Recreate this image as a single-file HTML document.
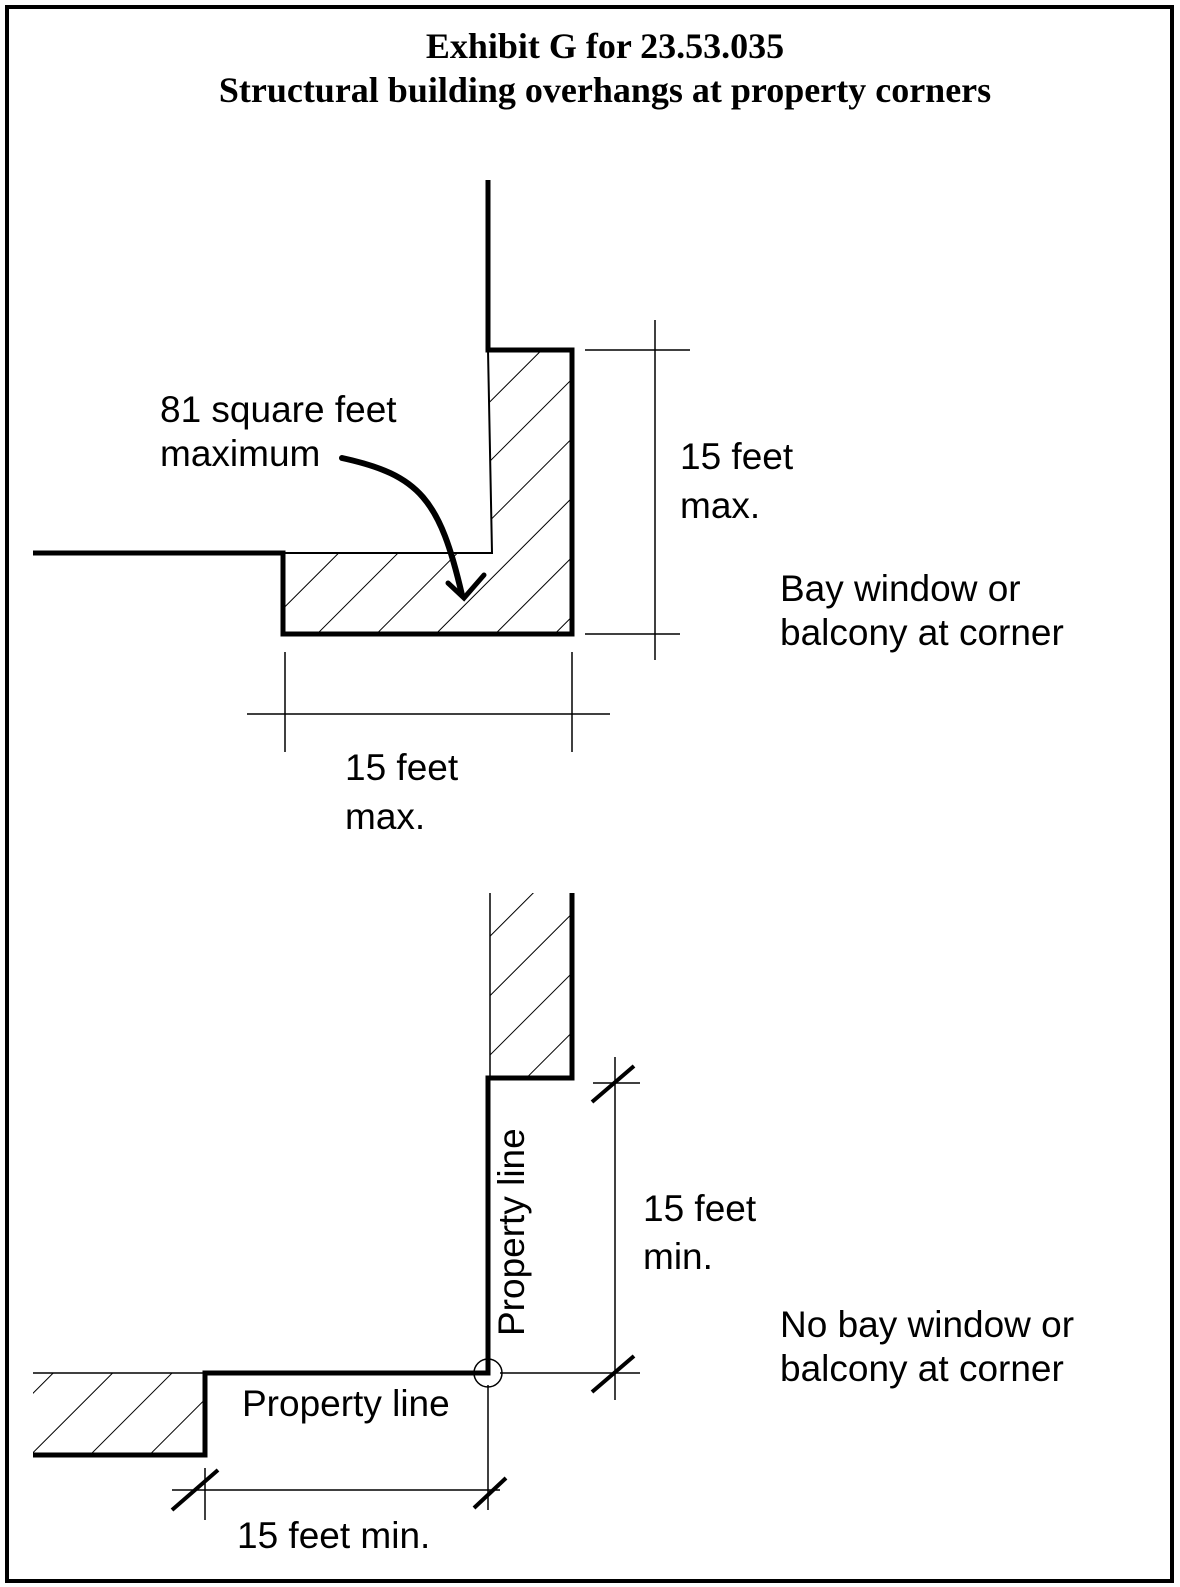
<!DOCTYPE html>
<html><head><style>
body{margin:0;background:#fff}
svg{display:block}
.t{font-family:"Liberation Sans",sans-serif;font-size:37px;fill:#000}
.h{font-family:"Liberation Serif",serif;font-size:36px;font-weight:bold;fill:#000}
</style></head><body>
<svg width="1180" height="1587" viewBox="0 0 1180 1587">
<defs>
<pattern id="hp" patternUnits="userSpaceOnUse" width="42" height="42" patternTransform="rotate(45)">
<line x1="0" y1="0" x2="0" y2="42" stroke="#000" stroke-width="2"/>
</pattern>
<clipPath id="c1"><path d="M488 350 L572 350 L572 634 L283 634 L283 553 L492 553 Z"/></clipPath>
</defs>
<rect x="7" y="7" width="1165" height="1574" fill="none" stroke="#000" stroke-width="4"/>
<text class="h" x="605" y="58" text-anchor="middle">Exhibit G for 23.53.035</text>
<text class="h" x="605" y="102" text-anchor="middle">Structural building overhangs at property corners</text>

<!-- top diagram -->
<rect x="270" y="340" width="310" height="300" fill="url(#hp)" clip-path="url(#c1)"/>
<path d="M488 350 L492 553 L283 553" fill="none" stroke="#000" stroke-width="2"/>
<path d="M488 180 L488 350 L572 350 L572 634 L283 634 L283 553 L33 553" fill="none" stroke="#000" stroke-width="5"/>
<g stroke="#000" stroke-width="1.5">
<line x1="655" y1="320" x2="655" y2="660"/>
<line x1="585" y1="350" x2="690" y2="350"/>
<line x1="585" y1="634" x2="680" y2="634"/>
<line x1="247" y1="714" x2="610" y2="714"/>
<line x1="285" y1="652" x2="285" y2="752"/>
<line x1="572" y1="652" x2="572" y2="752"/>
</g>
<path d="M342 458 C420 475 440 500 462 595" fill="none" stroke="#000" stroke-width="6" stroke-linecap="round"/>
<path d="M448 583 L464 598 L484 575" fill="none" stroke="#000" stroke-width="5" stroke-linecap="round"/>
<text class="t" x="160" y="422">81 square feet</text>
<text class="t" x="160" y="466">maximum</text>
<text class="t" x="680" y="469">15 feet</text>
<text class="t" x="680" y="518">max.</text>
<text class="t" x="780" y="601">Bay window or</text>
<text class="t" x="780" y="645">balcony at corner</text>
<text class="t" x="345" y="780">15 feet</text>
<text class="t" x="345" y="829">max.</text>

<!-- bottom diagram -->
<rect x="490" y="893" width="82" height="185" fill="url(#hp)"/>
<line x1="490" y1="893" x2="490" y2="1078" stroke="#000" stroke-width="1.5"/>
<rect x="33" y="1373" width="172" height="82" fill="url(#hp)"/>
<line x1="33" y1="1373" x2="205" y2="1373" stroke="#000" stroke-width="1.5"/>
<path d="M572 893 L572 1078 L488 1078 L488 1373 L205 1373 L205 1455 L33 1455" fill="none" stroke="#000" stroke-width="5"/>
<circle cx="488" cy="1373" r="14" fill="none" stroke="#000" stroke-width="1.5"/>
<g stroke="#000" stroke-width="1.5">
<line x1="500" y1="1373" x2="640" y2="1373"/>
<line x1="615" y1="1057" x2="615" y2="1400"/>
<line x1="593" y1="1083" x2="640" y2="1083"/>
<line x1="488" y1="1385" x2="488" y2="1510"/>
<line x1="172" y1="1490" x2="500" y2="1490"/>
<line x1="205" y1="1468" x2="205" y2="1520"/>
</g>
<g stroke="#000" stroke-width="4">
<line x1="592" y1="1102" x2="634" y2="1066"/>
<line x1="592" y1="1392" x2="634" y2="1356"/>
<line x1="172" y1="1510" x2="218" y2="1470"/>
<line x1="474" y1="1508" x2="506" y2="1478"/>
</g>
<text class="t" x="0" y="0" transform="translate(524 1336) rotate(-90)">Property line</text>
<text class="t" x="242" y="1416">Property line</text>
<text class="t" x="643" y="1221">15 feet</text>
<text class="t" x="643" y="1269">min.</text>
<text class="t" x="780" y="1337">No bay window or</text>
<text class="t" x="780" y="1381">balcony at corner</text>
<text class="t" x="237" y="1548">15 feet min.</text>
</svg>
</body></html>
